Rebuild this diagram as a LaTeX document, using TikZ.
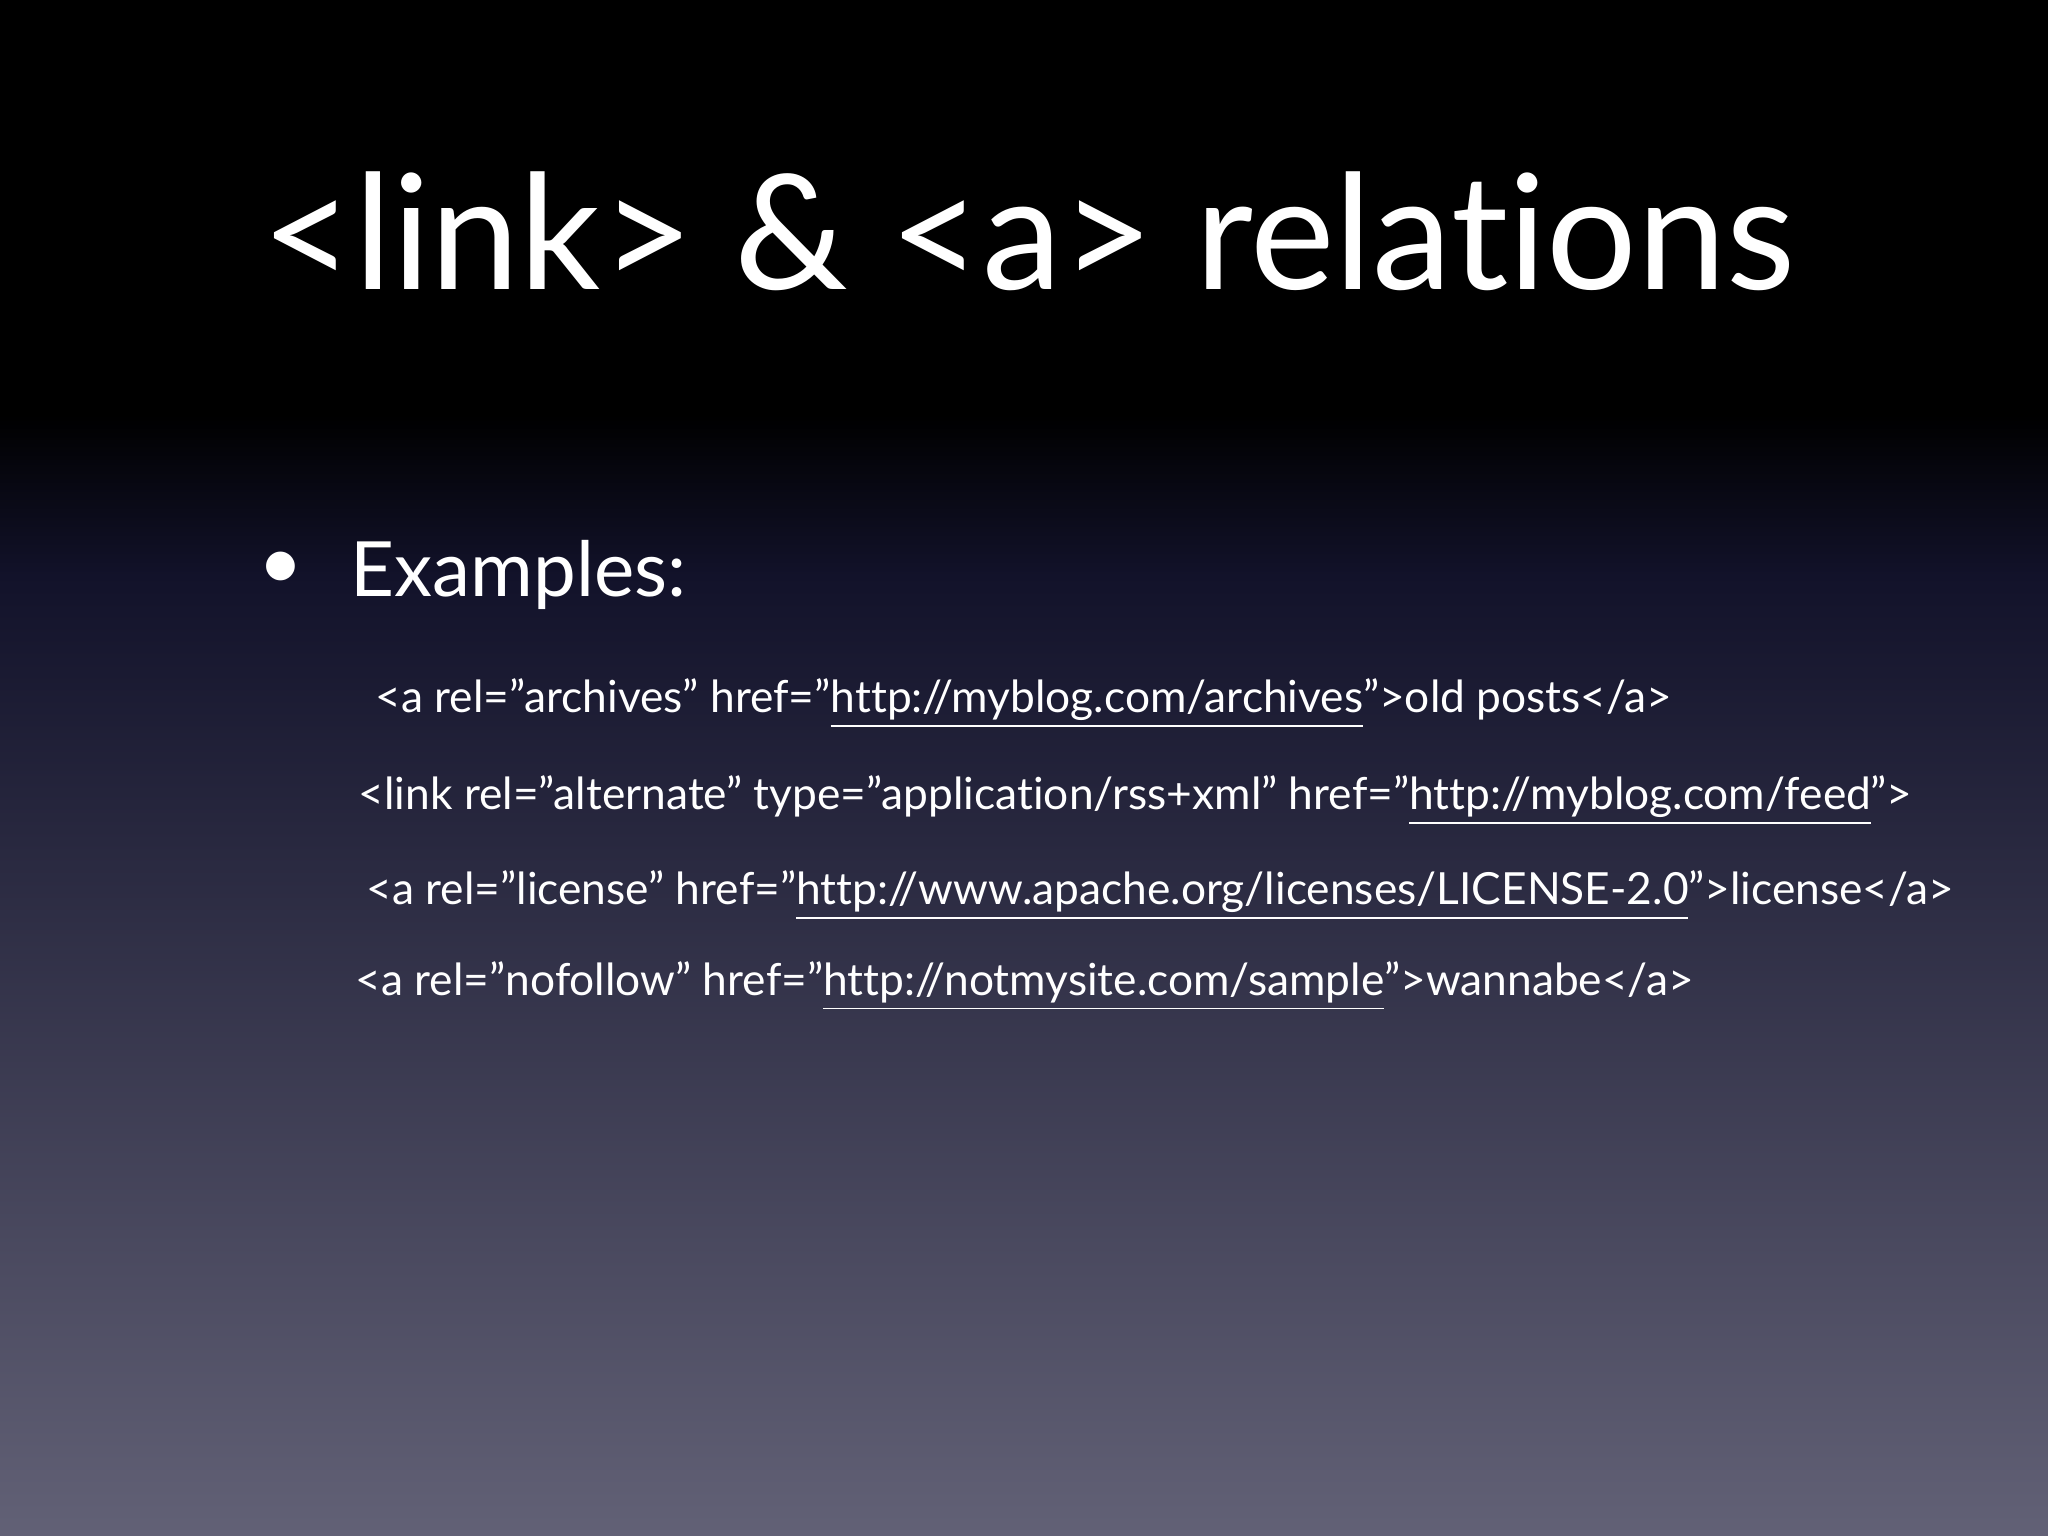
\documentclass[tikz,border=0pt]{standalone}
\usepackage{fontspec}
\setmainfont{Lato}[Ligatures=NoCommon]
\newcommand\qq{\symbol{34}}
\begin{document}
\begin{tikzpicture}
\definecolor{navy}{RGB}{18,18,42}
\definecolor{greyb}{RGB}{98,97,118}
\useasboundingbox (0,0) rectangle (20.48,15.36);
\fill[black] (0,11.2) rectangle (20.48,15.36);
\shade[top color=black, bottom color=navy] (0,9.6) rectangle (20.48,11.21);
\shade[top color=navy, bottom color=greyb] (0,0) rectangle (20.48,9.61);
\tikzset{txt/.style={anchor=base west, white, inner sep=0pt},
 code/.style={txt, font=\fontsize{12.6}{15}\selectfont}}
\node[txt, font=\fontsize{45.5}{54}\selectfont] (title) at (2.61,12.46) {<link> \& <a> relations};
\node[white, font=\fontsize{22}{26}\selectfont] (bul) at (2.81,9.65) {•};
\node[txt, font=\fontsize{21.7}{26}\selectfont] (ex) at (3.50,9.39) {Examples:};
\node[code] (l1) at (3.75,8.23) {<a rel=\qq archives\qq{} href=\qq\underline{http://myblog.com/archives}\qq>old posts</a>};
\node[code] (l2) at (3.58,7.26) {<link rel=\qq alternate\qq{} type=\qq application/rss+xml\qq{} href=\qq\underline{http://myblog.com/feed}\qq>};
\node[code] (l3) at (3.66,6.31) {<a rel=\qq license\qq{} href=\qq\underline{http://www.apache.org/licenses/LICENSE-2.0}\qq>license</a>};
\node[code] (l4) at (3.55,5.40) {<a rel=\qq nofollow\qq{} href=\qq\underline{http://notmysite.com/sample}\qq>wannabe</a>};
\end{tikzpicture}
\end{document}
